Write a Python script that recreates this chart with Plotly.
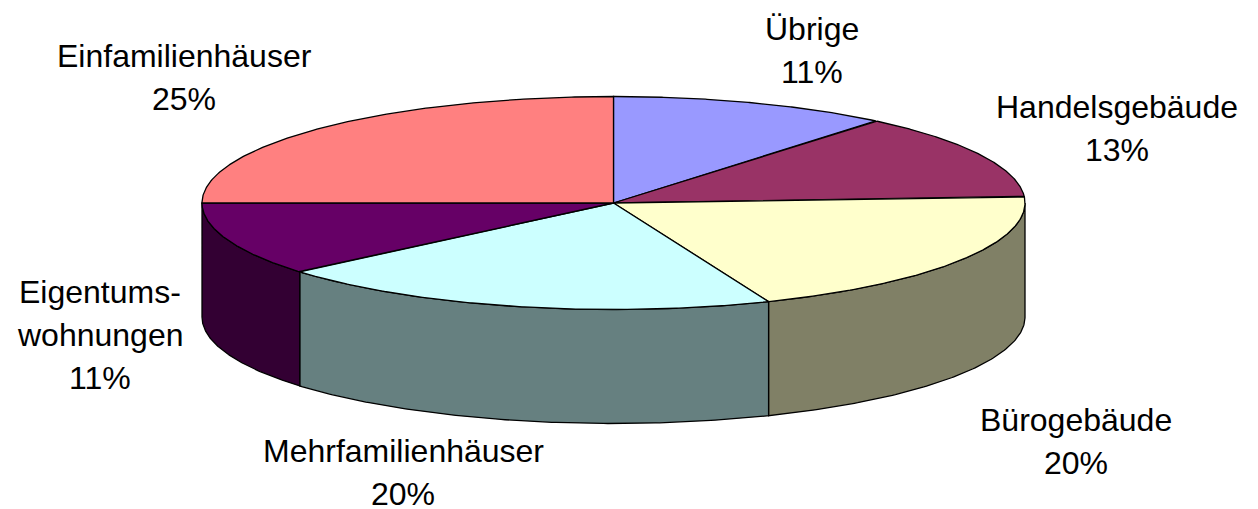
import numpy as np
import plotly.graph_objects as go

categories = ["Übrige", "Handelsgebäude", "Bürogebäude", "Mehrfamilienhäuser", "Eigentums-<br>wohnungen", "Einfamilienhäuser"]
shares = [11.0, 13.0, 19.85, 19.95, 11.2, 25.0]
top_colors = ["#9999FF", "#993366", "#FFFFCC", "#CCFFFF", "#660066", "#FF8080"]
side_colors = ["#4C4C80", "#4C1933", "#808066", "#668080", "#330033", "#804040"]

CX, CY, RX, RY, DEPTH = 613.5, 203, 411.5, 106.5, 114
LINE_STEP = 43
label_x = [812, 1117, 1076, 403, 100, 184]
label_y = [50, 128, 441, 472, 335, 77]

def ell(t):
    return CX + RX * np.sin(t), CY - RY * np.cos(t)

line = dict(color="#000000", width=1.3)
fig = go.Figure()
edges = np.cumsum([0] + shares) / sum(shares) * 2 * np.pi

# walls of the cylinder, only the front half (pi/2 .. 3pi/2) is visible
for i in range(len(shares)):
    a, b = max(edges[i], np.pi / 2), min(edges[i + 1], 3 * np.pi / 2)
    if b <= a:
        continue
    t = np.linspace(a, b, 120)
    x, y = ell(t)
    fig.add_trace(go.Scatter(
        x=np.r_[x, x[::-1], x[0]], y=np.r_[y, y[::-1] + DEPTH, y[0]],
        mode="lines", fill="toself", fillcolor=side_colors[i], line=line, hoverinfo="skip"))

# top faces
for i in range(len(shares)):
    t = np.linspace(edges[i], edges[i + 1], 200)
    x, y = ell(t)
    fig.add_trace(go.Scatter(
        x=np.r_[CX, x, CX], y=np.r_[CY, y, CY],
        mode="lines", fill="toself", fillcolor=top_colors[i], line=line, hoverinfo="skip"))

for c, s, x, y in zip(categories, shares, label_x, label_y):
    rows = c.split("<br>") + [f"{s:.0f}%"]
    for k, row in enumerate(rows):
        fig.add_annotation(x=x, y=y + (k - (len(rows) - 1) / 2) * LINE_STEP, text=row,
                           showarrow=False, align="center", yanchor="middle",
                           font=dict(family="Liberation Sans, Arial, sans-serif", size=32, color="#000000"))

fig.update_layout(
    width=1258, height=509, margin=dict(l=0, r=0, t=0, b=0), showlegend=False,
    paper_bgcolor="#FFFFFF", plot_bgcolor="#FFFFFF",
    xaxis=dict(range=[0, 1258], visible=False, fixedrange=True),
    yaxis=dict(range=[509, 0], visible=False, fixedrange=True),
)
fig.write_html("out.html", config=dict(displayModeBar=False),
               post_script="document.body.style.margin='0';document.body.style.overflow='hidden';")
